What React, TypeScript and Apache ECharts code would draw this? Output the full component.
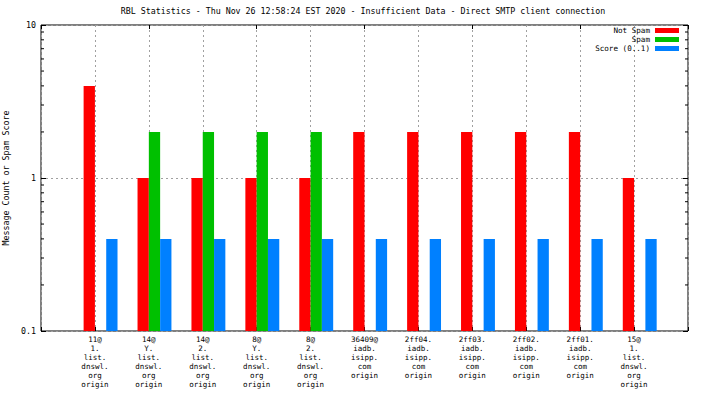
import React, { useEffect, useRef } from "react";
import * as echarts from "echarts";

const titleText =
  "RBL Statistics - Thu Nov 26 12:58:24 EST 2020 - Insufficient Data - Direct SMTP client connection";
const yAxisName = "Message Count or Spam Score";

const categories = [
  "11@\n1.\nlist.\ndnswl.\norg\norigin",
  "14@\nY.\nlist.\ndnswl.\norg\norigin",
  "14@\n2.\nlist.\ndnswl.\norg\norigin",
  "8@\nY.\nlist.\ndnswl.\norg\norigin",
  "8@\n2.\nlist.\ndnswl.\norg\norigin",
  "36409@\niadb.\nisipp.\ncom\norigin",
  "2ff04.\niadb.\nisipp.\ncom\norigin",
  "2ff03.\niadb.\nisipp.\ncom\norigin",
  "2ff02.\niadb.\nisipp.\ncom\norigin",
  "2ff01.\niadb.\nisipp.\ncom\norigin",
  "15@\n1.\nlist.\ndnswl.\norg\norigin",
];

const notSpam = [4, 1, 1, 1, 1, 2, 2, 2, 2, 2, 1];
const spam = [null, 2, 2, 2, 2, null, null, null, null, null, null];
const score = [0.4, 0.4, 0.4, 0.4, 0.4, 0.4, 0.4, 0.4, 0.4, 0.4, 0.4];

const seriesNames = ["Not Spam", "Spam", "Score (0..1)"];
const seriesColors = ["#ff0000", "#00c000", "#0080ff"];
const yMin = 0.1;
const yMax = 10;
const minorTickValues = [0.2, 0.3, 0.4, 0.5, 0.6, 0.7, 0.8, 0.9, 2, 3, 4, 5, 6, 7, 8, 9];

const FONT = "DejaVu Sans Mono";
const FS = 8.3;

// padding categories so the x range runs from -1 to 11 like the original
const padCats = [" ", ...categories, "  "];
const pad = (arr: (number | null)[]) => [null, ...arr, null];

export default function App() {
  const ref = useRef<HTMLDivElement>(null);
  useEffect(() => {
    if (!ref.current) return;
    const chart = echarts.init(ref.current, undefined, { renderer: "svg" });
    const barW = 11.3;
    const gridStyle = { color: "#a0a0a0", type: [2, 3] as any, width: 1 };
    chart.setOption({
      animation: false,
      backgroundColor: "#ffffff",
      textStyle: { fontFamily: FONT, fontSize: FS, color: "#000" },
      title: {
        text: titleText,
        left: 358,
        top: 2,
        textAlign: "center",
        textStyle: { fontFamily: FONT, fontSize: FS, fontWeight: "normal", color: "#000" },
      },
      legend: {
        orient: "vertical",
        right: 20,
        top: 21,
        align: "right",
        icon: "rect",
        itemWidth: 24,
        itemHeight: 5,
        itemGap: 0,
        data: seriesNames,
        textStyle: { fontFamily: FONT, fontSize: 7.6, lineHeight: 9, color: "#000" },
      },
      grid: {
        left: 41,
        right: 16,
        top: 25,
        bottom: 65,
        show: true,
        borderColor: "#000",
        borderWidth: 1,
        backgroundColor: "transparent",
        containLabel: false,
        outerBoundsMode: "none",
      },
      xAxis: [
        {
          type: "category",
          data: padCats,
          boundaryGap: false,
          axisLine: { show: false },
          axisTick: { show: true, inside: true, length: 4, lineStyle: { color: "#000" } },
          axisLabel: {
            interval: 0,
            margin: 4,
            fontFamily: FONT,
            fontSize: 7.5,
            lineHeight: 9,
            color: "#000",
            align: "center",
          },
          splitLine: { show: true, lineStyle: gridStyle },
        },
        {
          type: "category",
          position: "top",
          data: padCats,
          boundaryGap: false,
          axisLine: { show: false },
          axisTick: { show: true, inside: true, length: 4, lineStyle: { color: "#000" } },
          axisLabel: { show: false },
          splitLine: { show: false },
        },
      ],
      yAxis: [
        {
          type: "log",
          logBase: 10,
          min: yMin,
          max: yMax,
          startValue: yMin,
          name: yAxisName,
          nameLocation: "middle",
          nameGap: 28,
          nameTextStyle: { fontFamily: FONT, fontSize: FS, color: "#000" },
          axisLine: { show: false },
          axisTick: { show: true, inside: true, length: 5, lineStyle: { color: "#000" } },
          axisLabel: { margin: 5, fontFamily: FONT, fontSize: FS, color: "#000" },
          splitLine: { show: true, lineStyle: gridStyle },
        },
        {
          type: "log",
          logBase: 10,
          min: yMin,
          max: yMax,
          position: "right",
          axisLine: { show: false },
          axisTick: { show: true, inside: true, length: 5, lineStyle: { color: "#000" } },
          axisLabel: { show: false },
          splitLine: { show: false },
        },
      ],
      series: [
        {
          name: "_pad",
          type: "bar",
          barWidth: barW,
          barGap: 0,
          data: pad(categories.map(() => null)),
          silent: true,
        },
        {
          name: seriesNames[0],
          type: "bar",
          barWidth: barW,
          barGap: 0,
          itemStyle: { color: seriesColors[0] },
          data: pad(notSpam),
        },
        {
          name: seriesNames[1],
          type: "bar",
          barWidth: barW,
          barGap: 0,
          itemStyle: { color: seriesColors[1] },
          data: pad(spam),
        },
        {
          name: seriesNames[2],
          type: "bar",
          barWidth: barW,
          barGap: 0,
          itemStyle: { color: seriesColors[2] },
          data: pad(score),
        },
        {
          name: "_minor",
          type: "custom",
          silent: true,
          z: 1,
          data: minorTickValues.map((v) => [0, v]),
          renderItem: (params: any, api: any) => {
            const cs = params.coordSys;
            const y = api.coord([0, api.value(1)])[1];
            const len = 3;
            return {
              type: "group",
              children: [
                {
                  type: "line",
                  shape: { x1: cs.x, y1: y, x2: cs.x + len, y2: y },
                  style: { stroke: "#000", lineWidth: 1 },
                },
                {
                  type: "line",
                  shape: { x1: cs.x + cs.width - len, y1: y, x2: cs.x + cs.width, y2: y },
                  style: { stroke: "#000", lineWidth: 1 },
                },
              ],
            };
          },
        },
      ],
    });
    return () => chart.dispose();
  }, []);
  return (
    <div
      ref={ref}
      style={{ position: "fixed", left: 0, top: 0, width: 704, height: 396, background: "#fff" }}
    />
  );
}
